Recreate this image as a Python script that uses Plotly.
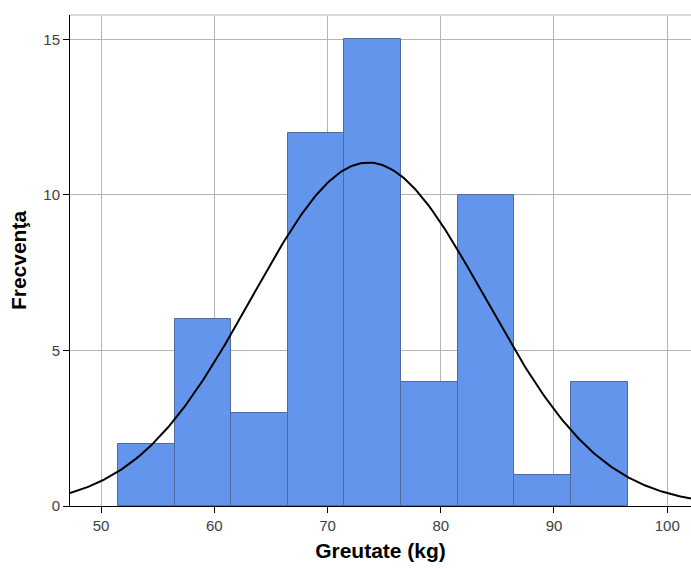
import numpy as np
import plotly.graph_objects as go

bin_centers = [54, 59, 64, 69, 74, 79, 84, 89, 94]
counts = [2, 6, 3, 12, 15, 4, 10, 1, 4]
bin_width = 5
mean_w = 73.6
sd_w = 10.3
n_total = sum(counts)
x_ticks = [50, 60, 70, 80, 90, 100]
y_ticks = [0, 5, 10, 15]

xs = np.linspace(47.26, 102.1, 300)
ys = n_total * bin_width / (sd_w * np.sqrt(2 * np.pi)) * np.exp(-0.5 * ((xs - mean_w) / sd_w) ** 2)

fig = go.Figure()
fig.add_trace(go.Bar(x=bin_centers, y=counts, width=bin_width,
                     marker=dict(color="#6495ED", line=dict(color="#50689a", width=1)),
                     showlegend=False, hoverinfo="skip"))
fig.add_trace(go.Scatter(x=xs, y=ys, mode="lines", line=dict(color="black", width=2),
                         showlegend=False, hoverinfo="skip"))

fig.update_layout(
    width=691, height=569,
    margin=dict(l=70, r=0, t=15, b=63),
    plot_bgcolor="white", paper_bgcolor="white",
    font=dict(family="Liberation Sans", color="#333333"),
    bargap=0,
)
fig.update_xaxes(range=[47.26, 102.1], tickvals=x_ticks, showgrid=True, gridcolor="#b4b4b4", gridwidth=1,
                 showline=True, linecolor="black", linewidth=1, ticks="outside", ticklen=6,
                 tickcolor="black", tickfont=dict(size=15, color="#404040"), zeroline=False,
                 title=dict(text="<b>Greutate (kg)</b>", font=dict(size=21, color="black"), standoff=10))
fig.update_yaxes(range=[0, 15.78], tickvals=y_ticks, showgrid=True, gridcolor="#b4b4b4", gridwidth=1,
                 showline=True, linecolor="black", linewidth=1, ticks="outside", ticklen=6,
                 tickcolor="black", tickfont=dict(size=15, color="#404040"), zeroline=False,
                 title=dict(text="<b>Frecvenţa</b>", font=dict(size=21, color="black"), standoff=10))
fig.add_shape(type="line", xref="paper", yref="paper", x0=0, x1=1, y0=1, y1=1,
              line=dict(color="#d9d9d9", width=2))
fig.write_html("out.html")
